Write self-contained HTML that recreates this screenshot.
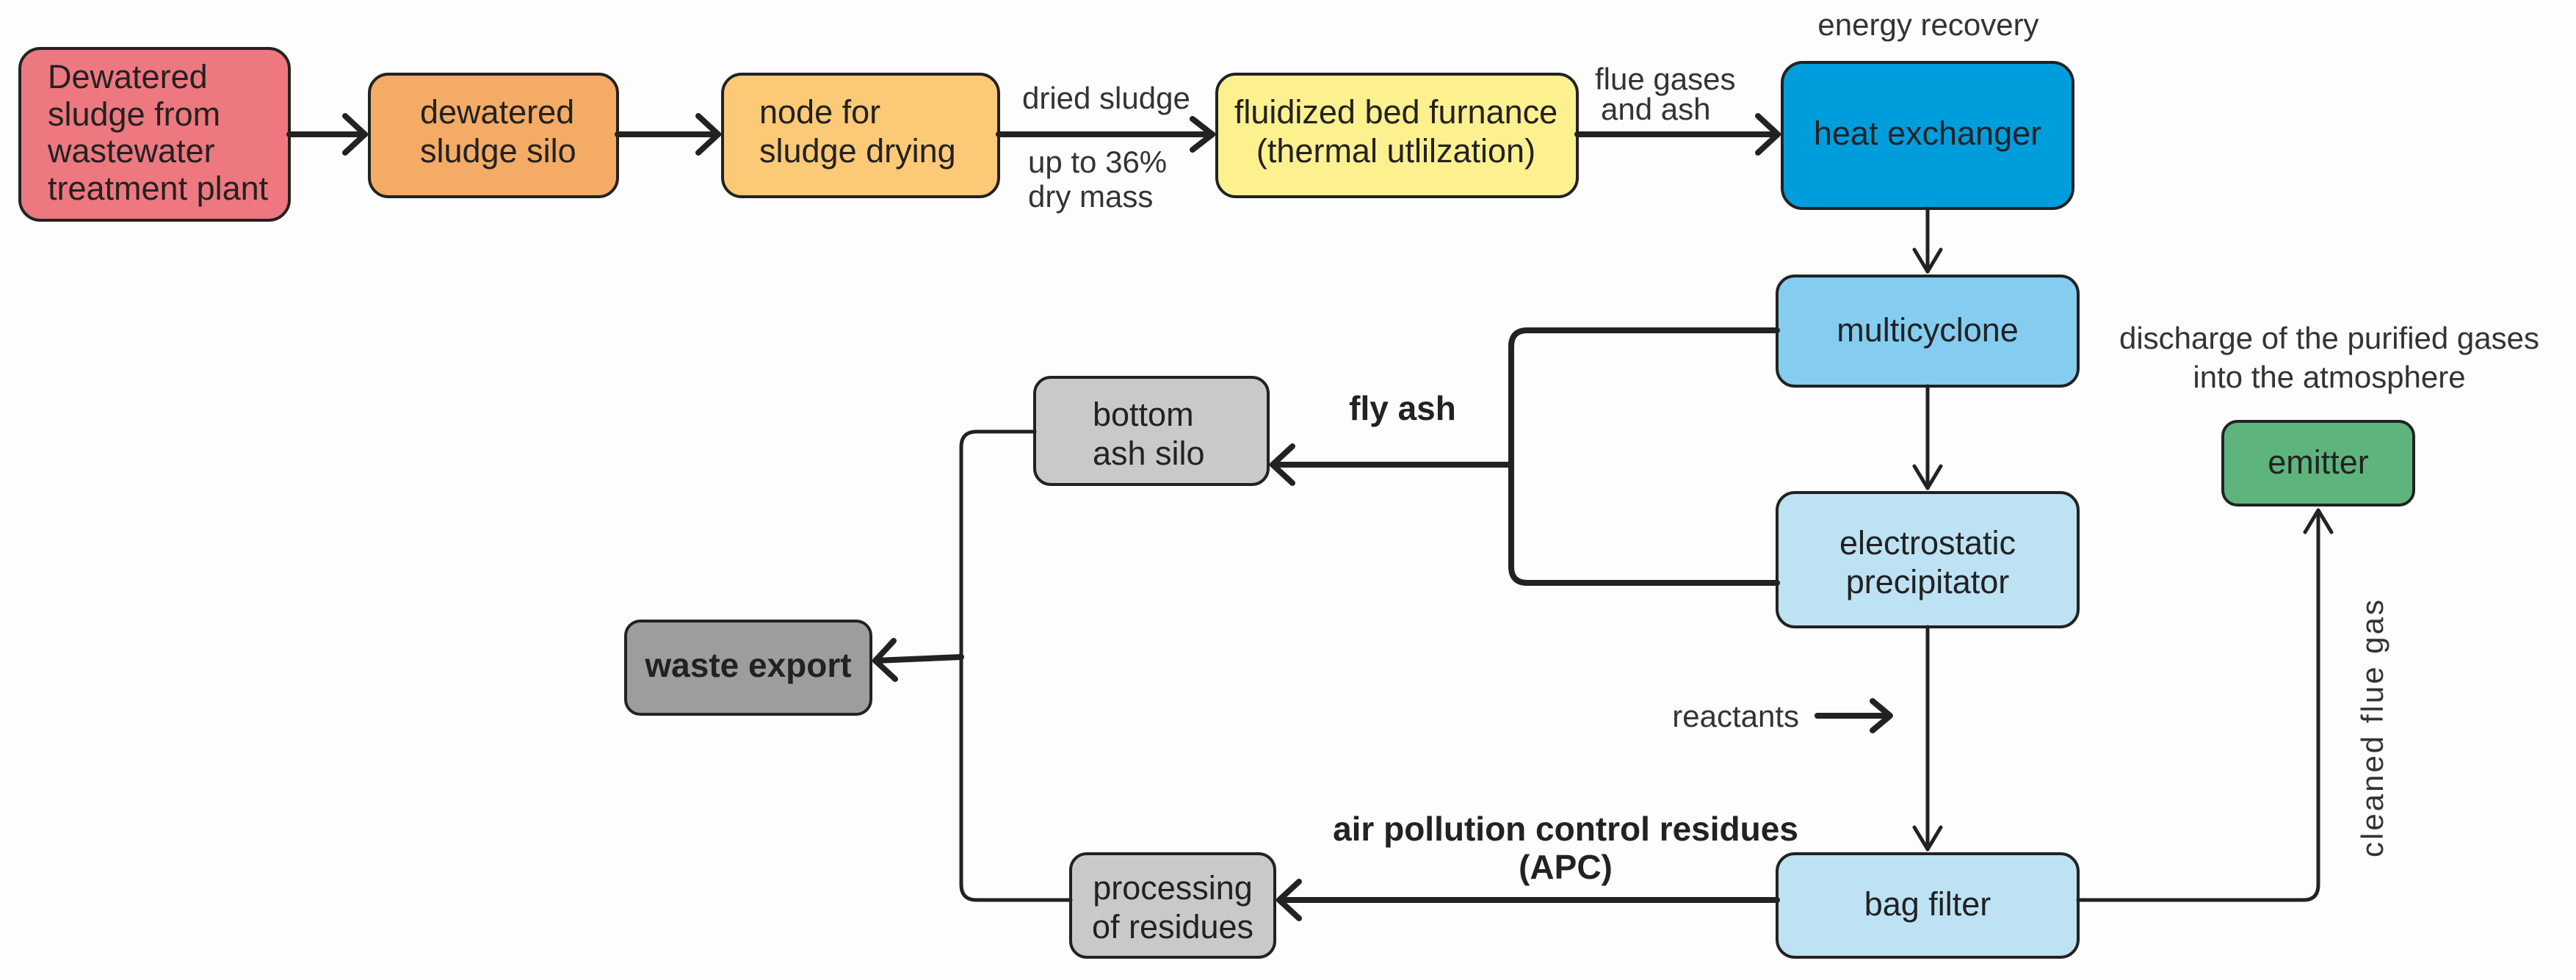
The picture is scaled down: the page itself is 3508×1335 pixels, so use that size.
<!DOCTYPE html>
<html><head><meta charset="utf-8"><style>
html,body{margin:0;padding:0;background:#fdfdfd;}
svg{display:block}
text{font-family:"Liberation Sans",sans-serif;fill:#222;}
.n{font-size:45px;}
.l{font-size:42px;fill:#333;}
.b{font-size:46px;font-weight:bold;}
</style></head><body>
<svg width="3508" height="1335" viewBox="0 0 3508 1335" xmlns="http://www.w3.org/2000/svg">
<g stroke="#222" stroke-width="4" stroke-linejoin="round">
<rect x="27" y="66" width="367" height="234" rx="28" fill="#ee7880"/>
<rect x="503" y="101" width="338" height="167" rx="26" fill="#f4ab66"/>
<rect x="984" y="101" width="376" height="167" rx="26" fill="#fcc976"/>
<rect x="1657" y="101" width="491" height="167" rx="26" fill="#fdf08f"/>
<rect x="2427" y="85" width="396" height="199" rx="28" fill="#009ddc"/>
<rect x="2420" y="376" width="410" height="150" rx="24" fill="#84cdf0"/>
<rect x="2420" y="671" width="410" height="183" rx="24" fill="#bde2f3"/>
<rect x="2420" y="1163" width="410" height="141" rx="24" fill="#bde2f3"/>
<rect x="3027" y="574" width="260" height="114" rx="20" fill="#5db57d"/>
<rect x="1409" y="514" width="318" height="146" rx="22" fill="#c9c9c9"/>
<rect x="852" y="846" width="334" height="127" rx="20" fill="#9d9d9d"/>
<rect x="1458" y="1163" width="278" height="141" rx="22" fill="#c9c9c9"/>
</g>
<g fill="none" stroke="#222" stroke-linecap="round" stroke-linejoin="round">
<g stroke-width="8">
<path d="M394 183H497"/><path d="M470 158L497 183L470 208"/>
<path d="M841 183H978"/><path d="M951 158L978 183L951 208"/>
<path d="M1360 183H1651"/><path d="M1624 162L1651 183L1624 204"/>
<path d="M2148 183H2421"/><path d="M2394 158L2421 183L2394 208"/>
<path d="M2420 450H2080Q2058 450 2058 472V772Q2058 794 2080 794H2420"/>
<path d="M2058 633H1733"/><path d="M1760 608L1733 633L1760 658"/>
<path d="M2420 1226H1742"/><path d="M1769 1201L1742 1226L1769 1251"/>
<path d="M2475 975H2572"/><path d="M2550 955L2574 975L2550 995"/>
<path d="M1309 895L1192 900"/><path d="M1217 873L1192 900L1219 925"/>
</g>
<g stroke-width="5">
<path d="M1458 1226H1330Q1309 1226 1309 1205V609Q1309 588 1330 588H1409"/>
<path d="M2830 1226H3137Q3157 1226 3157 1205V695"/><path d="M3139 725L3157 695L3175 725"/>
<path d="M2625 284V370"/><path d="M2607 340L2625 370L2643 340"/>
<path d="M2625 526V665"/><path d="M2607 635L2625 665L2643 635"/>
<path d="M2625 854V1157"/><path d="M2607 1127L2625 1157L2643 1127"/>
</g>
</g>
<text class="n" x="65" y="120">Dewatered</text>
<text class="n" x="65" y="171">sludge from</text>
<text class="n" x="65" y="221">wastewater</text>
<text class="n" x="65" y="272">treatment plant</text>
<text class="n" x="572" y="168">dewatered</text>
<text class="n" x="572" y="221">sludge silo</text>
<text class="n" x="1034" y="168">node for</text>
<text class="n" x="1034" y="221">sludge drying</text>
<text class="n" x="1901" y="168" text-anchor="middle">fluidized bed furnance</text>
<text class="n" x="1901" y="221" text-anchor="middle">(thermal utlilzation)</text>
<text class="n" x="2625" y="197" font-size="47" text-anchor="middle">heat exchanger</text>
<text class="n" x="2625" y="465" font-size="47" text-anchor="middle">multicyclone</text>
<text class="n" x="2625" y="755" text-anchor="middle">electrostatic</text>
<text class="n" x="2625" y="808" text-anchor="middle">precipitator</text>
<text class="n" x="2625" y="1247" text-anchor="middle">bag filter</text>
<text class="n" x="3157" y="645" text-anchor="middle">emitter</text>
<text class="n" x="1488" y="580">bottom</text>
<text class="n" x="1488" y="633">ash  silo</text>
<text class="b" x="1019" y="922" font-size="44" text-anchor="middle">waste export</text>
<text class="n" x="1597" y="1225" text-anchor="middle">processing</text>
<text class="n" x="1597" y="1278" text-anchor="middle">of residues</text>
<text class="l" x="1392" y="148" font-size="40">dried sludge</text>
<text class="l" x="1400" y="235" font-size="40">up to 36%</text>
<text class="l" x="1400" y="282" font-size="40">dry mass</text>
<text class="l" x="2172" y="122" font-size="37">flue gases</text>
<text class="l" x="2180" y="163" font-size="37">and ash</text>
<text class="l" x="2626" y="48" font-size="46" text-anchor="middle">energy recovery</text>
<text class="l" x="3172" y="475" font-size="46" text-anchor="middle">discharge of the purified gases</text>
<text class="l" x="3172" y="528" font-size="46" text-anchor="middle">into the atmosphere</text>
<text class="b" x="1910" y="572" font-size="48" text-anchor="middle">fly ash</text>
<text class="l" x="2450" y="990" font-size="45" text-anchor="end">reactants</text>
<text class="b" x="2132" y="1145" font-size="50" text-anchor="middle">air pollution control residues</text>
<text class="b" x="2132" y="1197" font-size="50" text-anchor="middle">(APC)</text>
<text class="l" x="3245" y="991" text-anchor="middle" transform="rotate(-90 3245 991)" font-size="42" letter-spacing="3">cleaned flue gas</text>
</svg>
</body></html>
